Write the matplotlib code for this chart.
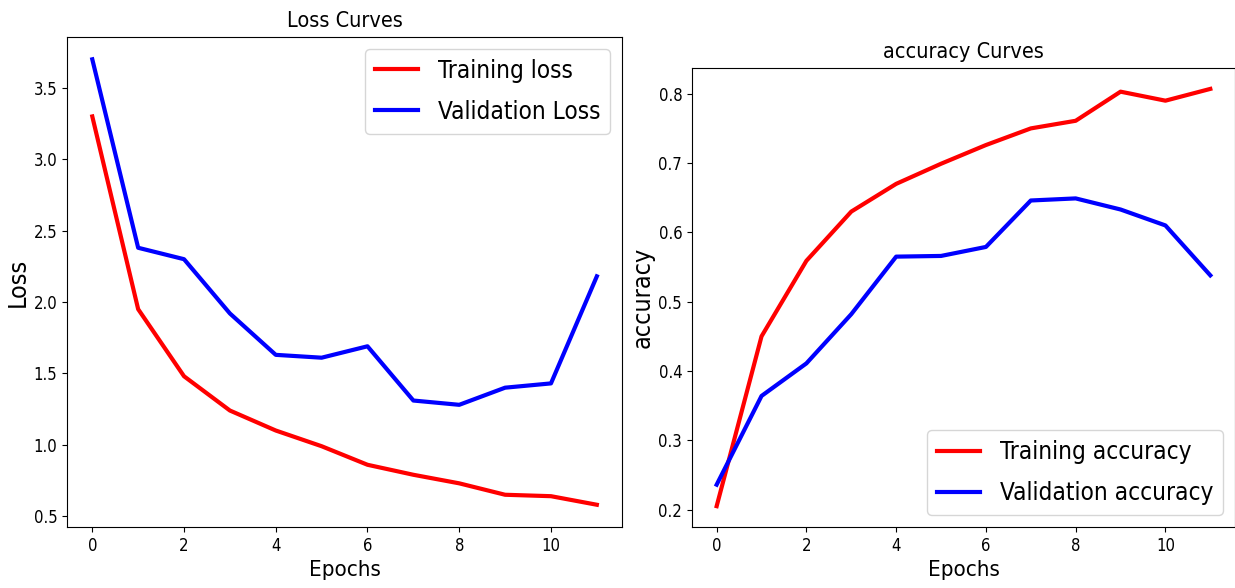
import numpy as np
import matplotlib
matplotlib.use("Agg")
import matplotlib.pyplot as plt

plt.rcParams["font.family"] = ["DejaVu Sans"]
plt.rcParams["font.stretch"] = "condensed"

epochs = np.arange(12)
train_loss = [3.30, 1.95, 1.48, 1.24, 1.10, 0.99, 0.86, 0.79, 0.73, 0.65, 0.64, 0.58]
val_loss = [3.70, 2.38, 2.30, 1.92, 1.63, 1.61, 1.69, 1.31, 1.28, 1.40, 1.43, 2.18]
train_acc = [0.205, 0.450, 0.559, 0.630, 0.670, 0.699, 0.726, 0.750, 0.761, 0.803, 0.790, 0.807]
val_acc = [0.236, 0.364, 0.411, 0.482, 0.565, 0.566, 0.579, 0.646, 0.649, 0.633, 0.610, 0.538]

fig = plt.figure(figsize=(12.35, 5.88), dpi=100)
ax1 = fig.add_axes([0.0543, 0.1037, 0.4494, 0.8333])
ax2 = fig.add_axes([0.5603, 0.1037, 0.4397, 0.7806])

leg_kw = dict(fontsize=17.5, handlelength=1.8, labelspacing=0.7, borderaxespad=0.5)

ax1.plot(epochs, train_loss, "r", linewidth=3, label="Training loss")
ax1.plot(epochs, val_loss, "b", linewidth=3, label="Validation Loss")
ax1.legend(**leg_kw)
ax1.set_xlabel("Epochs", fontsize=16)
ax1.set_ylabel("Loss", fontsize=18, labelpad=3)
ax1.set_title("Loss Curves", fontsize=15.5, pad=7)

ax2.plot(epochs, train_acc, "r", linewidth=3, label="Training accuracy")
ax2.plot(epochs, val_acc, "b", linewidth=3, label="Validation accuracy")
ax2.legend(**leg_kw)
ax2.set_xlabel("Epochs", fontsize=16)
ax2.set_ylabel("accuracy", fontsize=18, labelpad=3)
ax2.set_title("accuracy Curves", fontsize=15.5, pad=7)

for ax in (ax1, ax2):
    ax.tick_params(labelsize=12)

fig.savefig("out.png", dpi=100)
